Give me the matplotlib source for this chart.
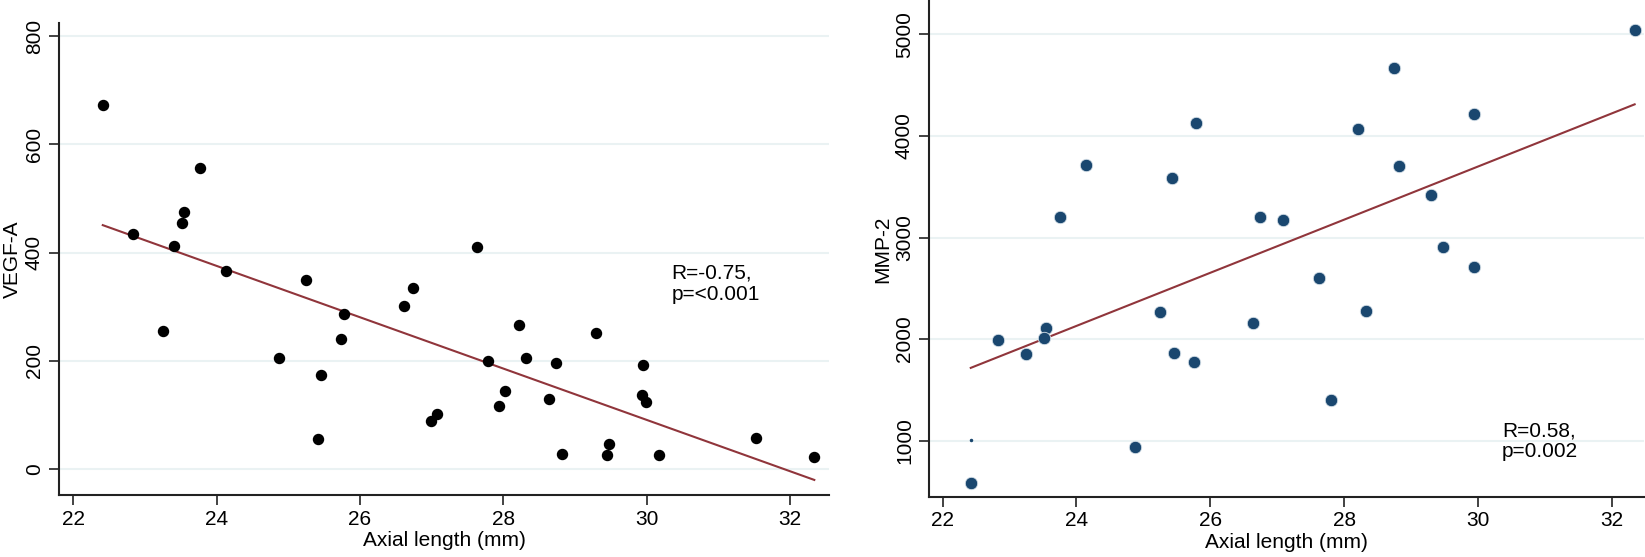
import matplotlib
matplotlib.use("Agg")
import matplotlib.pyplot as plt
import numpy as np

plt.rcParams['font.family'] = ['Liberation Sans', 'DejaVu Sans']

# left panel: VEGF-A vs axial length
vegf_x = [22.41, 22.83, 23.54, 23.52, 23.41, 23.77, 24.13, 23.25, 25.24, 24.87,
          25.45, 25.42, 25.74, 25.78, 26.62, 26.74, 27.63, 28.22, 29.30, 27.79,
          28.32, 28.74, 29.95, 28.03, 27.94, 28.64, 29.93, 29.99, 27.08, 26.99,
          31.53, 29.47, 28.82, 29.45, 30.17, 32.34]
vegf_y = [672, 435, 474, 454, 412, 556, 365, 255, 349, 205,
          174, 55, 241, 286, 302, 335, 410, 266, 252, 200,
          205, 196, 193, 144, 116, 130, 136, 124, 102, 89,
          58, 47, 28, 25, 25, 22]

# right panel: MMP-2 vs axial length
mmp_x = [23.76, 24.14, 25.43, 25.78, 26.74, 32.34, 28.75, 29.94, 28.21, 28.82,
         29.29, 27.09, 29.47, 29.94, 27.63, 22.83, 23.25, 23.54, 23.52, 25.25,
         25.45, 25.75, 26.63, 24.87, 22.42, 28.33, 27.80]
mmp_y = [3197, 3713, 3582, 4124, 3197, 5042, 4667, 4220, 4068, 3703,
         3421, 3170, 2908, 2710, 2600, 1986, 1855, 2108, 2010, 2269,
         1865, 1773, 2158, 934, 582, 2279, 1398]

x_ticks = [22, 24, 26, 28, 30, 32]
vegf_ticks = [0, 200, 400, 600, 800]
mmp_ticks = [1000, 2000, 3000, 4000, 5000]

navy = '#1a476f'
maroon = '#90353b'
grid_c = '#eaf2f3'

fig = plt.figure(figsize=(16.45, 5.57), dpi=100)
ax1 = fig.add_axes([0.0359, 0.1113, 0.4680, 0.8474])
ax2 = fig.add_axes([0.5649, 0.1082, 0.4345, 0.8898])


def style(ax, yticks, ylabel):
    for s in ['top', 'right']:
        ax.spines[s].set_visible(False)
    for s in ['left', 'bottom']:
        ax.spines[s].set_linewidth(1.5)
        ax.spines[s].set_color('#222222')
    ax.set_xticks(x_ticks)
    ax.set_yticks(yticks)
    ax.tick_params(axis='both', labelsize=15, length=7, width=1.2, color='#222222')
    ax.tick_params(axis='y', labelrotation=90, pad=4)
    for lab in ax.get_yticklabels():
        lab.set_va('center')
    ax.yaxis.grid(True, color=grid_c, linewidth=1.5)
    ax.set_axisbelow(True)
    ax.set_xlabel('Axial length (mm)', fontsize=15, labelpad=2)
    ax.set_ylabel(ylabel, fontsize=15, labelpad=2)


style(ax1, vegf_ticks, 'VEGF-A')
ax1.scatter(vegf_x, vegf_y, s=52, color='black', zorder=3)
b1, b0 = np.polyfit(vegf_x, vegf_y, 1)
xs = np.array([min(vegf_x), max(vegf_x)])
ax1.plot(xs, b0 + b1 * xs, color=maroon, linewidth=1.5, zorder=2)
ax1.set_xlim(21.80, 32.544)
ax1.set_ylim(-48, 824)
ax1.text(30.35, 342, 'R=-0.75,\np=<0.001', fontsize=15, va='center', ha='left',
         linespacing=1.15)

style(ax2, mmp_ticks, 'MMP-2')
ax2.scatter(mmp_x, mmp_y, s=80, color=navy, edgecolor='#d8e2ea', linewidth=0.6, zorder=3)
c1, c0 = np.polyfit(mmp_x, mmp_y, 1)
xs2 = np.array([min(mmp_x), max(mmp_x)])
ax2.plot(xs2, c0 + c1 * xs2, color=maroon, linewidth=1.5, zorder=2)
ax2.plot([22.42], [1010], marker='o', markersize=1.5, color=navy, zorder=3)
ax2.set_xlim(21.80, 32.48)
ax2.set_ylim(447, 5328)
ax2.text(30.36, 994, 'R=0.58,\np=0.002', fontsize=15, va='center', ha='left',
         linespacing=1.15)

fig.savefig('out.png', dpi=100)
